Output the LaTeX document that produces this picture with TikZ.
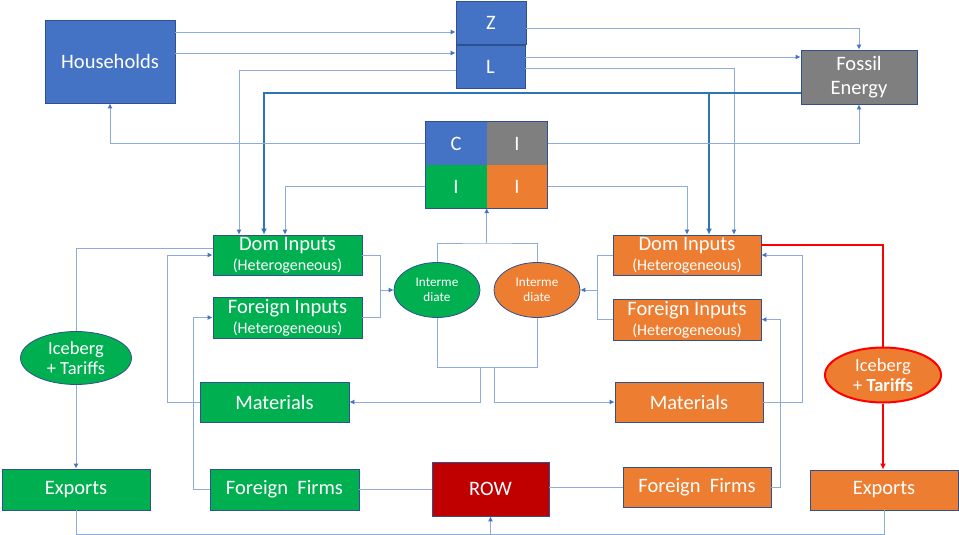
\documentclass[tikz,border=0pt]{standalone}
\usepackage{fontspec}
\setmainfont{Carlito}
\usetikzlibrary{arrows.meta,shapes.geometric,calc}
\definecolor{cblue}{HTML}{4472C4}
\definecolor{cgreen}{HTML}{00B050}
\definecolor{corange}{HTML}{ED7D31}
\definecolor{cgrey}{HTML}{7F7F7F}
\definecolor{cred}{HTML}{C00000}
\definecolor{bord}{HTML}{2F528F}
\definecolor{lnc}{HTML}{8FAADC}
\definecolor{thkc}{HTML}{2E75B6}
\definecolor{redl}{HTML}{FF0000}
\newcommand\hetero{{\fontsize{16}{20}\selectfont(Heterogeneous)}}
\begin{document}
\begin{tikzpicture}[x=1pt,y=-1pt,
  bx/.style={draw=bord,line width=0.8pt,text=white,inner sep=0pt,align=center,font=\fontsize{20.5}{20}\selectfont},
  qd/.style={inner sep=0pt,text=white,minimum width=61pt,minimum height=43pt,font=\fontsize{20.5}{24}\selectfont},
  el/.style={ellipse,draw=bord,line width=0.8pt,text=white,inner sep=0pt,align=center},
  ln/.style={draw=lnc,line width=0.9pt,-{Latex[length=5pt,width=5pt,color=cblue]}},
  lnn/.style={draw=lnc,line width=0.9pt},
  thk/.style={draw=thkc,line width=2pt,-{Latex[length=6pt,width=6pt]}},
  rl/.style={draw=redl,line width=2pt},
  ]
\useasboundingbox (0,0) rectangle (959,535);
% top
\node[bx,fill=cblue,minimum width=130pt,minimum height=83pt] (hh) at (110,61.5) {Households};
\node[bx,fill=cblue,minimum width=70pt,minimum height=43pt] (z) at (491,22.5) {Z};
\node[bx,fill=cblue,minimum width=69pt,minimum height=43pt] (l) at (490.5,66.5) {L};
\node[bx,fill=cgrey,minimum width=116pt,minimum height=54pt,font=\fontsize{20.5}{24}\selectfont] (fossil) at (859,77) {Fossil\\Energy};
% CI quadrants
\node[qd,fill=cblue] (cc) at (456,143.5) {C};
\node[qd,fill=cgrey] (ig) at (517,143.5) {I};
\node[qd,fill=cgreen] (gi) at (456,186.5) {I};
\node[qd,fill=corange] (oi) at (517,186.5) {I};
\draw[draw=bord,line width=0.8pt] (cc.north west) rectangle (oi.south east);
% green side
\node[bx,fill=cgreen,minimum width=149pt,minimum height=40pt] (gdom) at (287.5,255) {Dom Inputs\\\hetero};
\node[bx,fill=cgreen,minimum width=149pt,minimum height=41pt] (gfor) at (287.5,317.5) {Foreign Inputs\\\hetero};
\node[bx,fill=cgreen,minimum width=149pt,minimum height=40pt] (gmat) at (274.5,402) {Materials};
\node[bx,fill=cgreen,minimum width=148pt,minimum height=41pt] (gexp) at (76,489.5) {Exports};
\node[bx,fill=cgreen,minimum width=149pt,minimum height=41pt] (gff) at (284.5,489.5) {Foreign\ \ Firms};
\node[el,fill=cgreen,minimum width=111pt,minimum height=53pt,font=\fontsize{18.5}{20}\selectfont] (gice) at (76,358) {Iceberg\\+ Tariffs};
\node[el,fill=cgreen,minimum width=86pt,minimum height=55pt,font=\fontsize{13.2}{15}\selectfont] (gint) at (437,290) {Interme\\diate};
% centre
\node[bx,fill=cred,minimum width=117pt,minimum height=54pt] (row) at (490.5,489) {ROW};
% orange side
\node[el,fill=corange,minimum width=86pt,minimum height=55pt,font=\fontsize{13.2}{15}\selectfont] (oint) at (537,290) {Interme\\diate};
\node[bx,fill=corange,minimum width=148pt,minimum height=40pt] (odom) at (687,255) {Dom Inputs\\\hetero};
\node[bx,fill=corange,minimum width=148pt,minimum height=41pt] (ofor) at (687,319.5) {Foreign Inputs\\\hetero};
\node[bx,fill=corange,minimum width=148pt,minimum height=40pt] (omat) at (689,402) {Materials};
\node[bx,fill=corange,minimum width=148pt,minimum height=40pt] (off) at (697,487) {Foreign\ \ Firms};
\node[bx,fill=corange,minimum width=148pt,minimum height=40pt] (oexp) at (884,490) {Exports};
\node[el,draw=redl,line width=2pt,fill=corange,minimum width=116pt,minimum height=55pt,font=\fontsize{18.5}{20}\selectfont] (oice) at (883,375) {Iceberg\\+ \textbf{Tariffs}};
% top connectors
\draw[ln] (hh.east|-0,32) -- (z.west|-0,32);
\draw[ln] (hh.east|-0,53) -- (l.west|-0,53);
\draw[ln] (z.east|-0,28) -| (fossil.north);
\draw[ln] (l.east|-0,57) -- (fossil.west|-0,57);
\draw[ln] (l.east|-0,68) -| ([xshift=47pt]odom.north);
\draw[ln] (l.west|-0,70) -| ([xshift=-48.5pt]gdom.north);
\draw[thk] (fossil.west|-0,93) -| ([xshift=-23.5pt]gdom.north);
\coordinate (tb) at ([xshift=22pt]odom.north|-0,93);
\draw[thk] (tb) -- ([xshift=22pt]odom.north);
\draw[ln] (cc.west) -| (hh.south);
\draw[ln] (ig.east) -| (fossil.south);
\draw[ln] (gi.west) -| ([xshift=-2.5pt]gdom.north);
\draw[ln] (oi.east) -| (odom.north);
% green connectors
\draw[lnn] (gdom.west|-0,248) -| (gice.north);
\draw[ln] (gice.south) -- (gice.south|-gexp.north);
\draw[ln] (gmat.west) -- ++(-32,0) |- (gdom.west);
\draw[ln] (gff.west) -- ++(-16,0) |- (gfor.west);
\draw[lnn] (gff.east) -- (row.west|-gff.east);
\draw[lnn] (gdom.east) -- ++(18,0) |- (gfor.east);
\draw[ln] ([xshift=18pt]gdom.east|-gint.west) -- (gint.west);
% intermediate brackets
\coordinate (tj) at (gi.south east|-0,243);
\draw[lnn] (gint.north) |- (tj) -| (oint.north);
\draw[ln] (tj) -- (gi.south east);
\coordinate (bl) at (gint.south|-0,367);
\coordinate (br) at (oint.south|-0,367);
\draw[lnn] (gint.south) -- (bl) -- (br) -- (oint.south);
\draw[ln] (480,367) |- (gmat.east);
\draw[ln] (494,367) |- (omat.west);
% orange connectors
\draw[lnn] (odom.west) -- ++(-15,0) |- (ofor.west);
\draw[ln] ([xshift=-15pt]odom.west|-oint.east) -- (oint.east);
\draw[ln] (omat.east) -- ++(39,0) |- (odom.east);
\draw[ln] (off.east) -- ++(9,0) |- (ofor.east);
\draw[lnn] (off.west) -- (row.east|-off.west);
\draw[rl] (odom.east|-0,245) -| (oice.north);
\draw[rl,-{Latex[length=6pt,width=6pt]}] (oice.south) -- (oice.south|-oexp.north);
% exports to ROW
\coordinate (bj) at (row.south|-0,534);
\draw[lnn] (gexp.south) |- (bj);
\draw[lnn] (oexp.south) |- (bj);
\draw[ln] (bj) -- (row.south);
\end{tikzpicture}
\end{document}
